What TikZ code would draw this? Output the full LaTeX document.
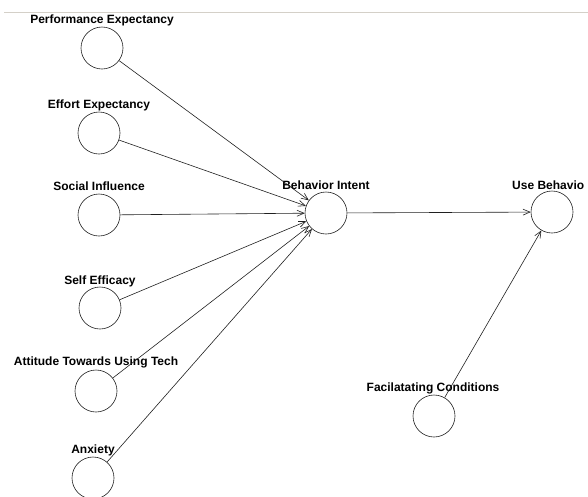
\documentclass[tikz,border=0pt]{standalone}
\usepackage{fontspec}
\setmainfont{Liberation Sans}
\usepackage{tikz}
\usetikzlibrary{arrows.meta, calc}
\definecolor{my_darkgray}{HTML}{202020}
\definecolor{my_rulegray}{HTML}{D4D0C8}

\begin{document}
\begin{tikzpicture}[
    x=1pt, y=-1pt,
    construct/.style={draw=my_darkgray, circle, minimum size=42pt, inner sep=0pt, line width=0.6pt},
    caption/.style={font=\fontsize{12}{14}\selectfont\bfseries, inner sep=0pt},
    path_arrow/.style={draw=my_darkgray, line width=0.6pt, -{Straight Barb[length=7pt, width=6pt]}}
]

% Canvas: 588 x 496, y grows downwards
\clip (0,0) rectangle (588,496);

% Thin separator line at the top
\draw[my_rulegray, line width=0.8pt] (4,12) -- (588,12);

% Exogenous constructs (left column)
\node[construct] (PE) at (102,48)  {};
\node[construct] (EE) at (99,133)  {};
\node[construct] (SI) at (99,215)  {};
\node[construct] (SE) at (100,308) {};
\node[construct] (AT) at (96,391)  {};
\node[construct] (AX) at (93,478)  {};

% Endogenous constructs
\node[construct] (BI) at (326,213) {};
\node[construct] (UB) at (552,212) {};
\node[construct] (FC) at (434,416) {};

% Captions above the circles
\node[caption] (PE-cap) at ($(PE) + (0,-28)$) {Performance Expectancy};
\node[caption] (EE-cap) at ($(EE) + (0,-28)$) {Effort Expectancy};
\node[caption] (SI-cap) at ($(SI) + (0,-29)$) {Social Influence};
\node[caption] (SE-cap) at ($(SE) + (0,-27)$) {Self Efficacy};
\node[caption] (AT-cap) at ($(AT) + (0,-29)$) {Attitude Towards Using Tech};
\node[caption] (AX-cap) at ($(AX) + (0,-28)$) {Anxiety};
\node[caption] (BI-cap) at ($(BI) + (0,-28)$) {Behavior Intent};
\node[caption, anchor=west] (UB-cap) at ($(UB) + (-40,-27)$) {Use Behavio};
\node[caption] (FC-cap) at ($(FC) + (-1,-28)$) {Facilatating Conditions};

% Paths into Behavior Intent
\foreach \src in {PE, EE, SI, SE, AT, AX}
    \draw[path_arrow] (\src) -- (BI);

% Paths into Use Behavior
\draw[path_arrow] (BI) -- (UB);
\draw[path_arrow] (FC) -- (UB);

\end{tikzpicture}
\end{document}
